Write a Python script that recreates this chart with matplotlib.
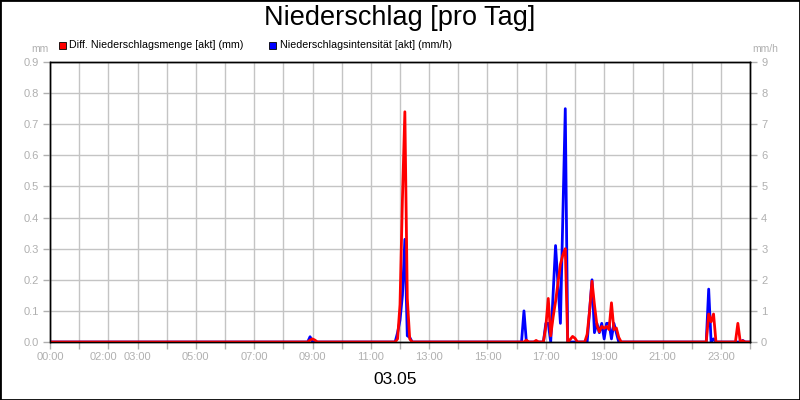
import numpy as np
import matplotlib
matplotlib.use("Agg")
import matplotlib.pyplot as plt
from matplotlib.patches import Rectangle
from matplotlib.transforms import ScaledTranslation

# ---- data (5-minute steps, values not listed are 0) ----
red_times = ["08:55", "09:00", "09:05",
             "11:55", "12:00", "12:05", "12:10", "12:15", "12:20",
             "16:20", "16:40",
             "17:00", "17:05", "17:10", "17:15", "17:20", "17:25", "17:30", "17:35", "17:40",
             "17:50", "17:55", "18:00",
             "18:25", "18:30", "18:35", "18:40", "18:45", "18:50", "18:55", "19:00", "19:05",
             "19:10", "19:15", "19:20", "19:25", "19:30",
             "22:35", "22:40", "22:45",
             "23:35", "23:45"]
red_vals = [0.006, 0.01, 0.006,
            0.01, 0.12, 0.46, 0.74, 0.14, 0.01,
            0.006, 0.005,
            0.05, 0.14, 0.02, 0.08, 0.13, 0.19, 0.25, 0.28, 0.30,
            0.008, 0.018, 0.012,
            0.025, 0.10, 0.195, 0.12, 0.055, 0.033, 0.05, 0.044, 0.05,
            0.04, 0.126, 0.04, 0.045, 0.015,
            0.09, 0.065, 0.09,
            0.06, 0.004]

blue_times = ["08:55",
              "11:55", "12:00", "12:05", "12:10", "12:15", "12:20",
              "16:15",
              "17:00", "17:05", "17:15", "17:20", "17:25", "17:30", "17:35", "17:40",
              "18:30", "18:35", "18:40", "18:45", "18:50", "18:55", "19:00", "19:05",
              "19:10", "19:15", "19:20", "19:25",
              "22:35", "22:45",
              "23:45"]
blue_vals = [0.17,
             0.3, 0.7, 1.5, 3.3, 0.2, 0.15,
             1.0,
             0.6, 0.6, 1.55, 3.1, 1.85, 0.6, 4.0, 7.5,
             1.0, 2.0, 0.3, 0.6, 0.3, 0.6, 0.1, 0.6,
             0.6, 0.1, 0.6, 0.3,
             1.7, 0.1,
             0.05]

tick_hours = [0, 2, 3, 5, 7, 9, 11, 13, 15, 17, 19, 21, 23]
tick_labels = ["00:00", "02:00", "03:00", "05:00", "07:00", "09:00", "11:00",
               "13:00", "15:00", "17:00", "19:00", "21:00", "23:00"]

title = "Niederschlag [pro Tag]"
date_label = "03.05"
red_label = "Diff. Niederschlagsmenge [akt] (mm)"
blue_label = "Niederschlagsintensität [akt] (mm/h)"


def to_idx(s):
    h, m = s.split(":")
    return (int(h) * 60 + int(m)) // 5


n = 24 * 12 + 1
hours = np.arange(n) / 12.0
red = np.zeros(n)
blue = np.zeros(n)
for t, v in zip(red_times, red_vals):
    red[to_idx(t)] = v
for t, v in zip(blue_times, blue_vals):
    blue[to_idx(t)] = v

plt.rcParams['font.family'] = ['Liberation Sans', 'DejaVu Sans']

fig = plt.figure(figsize=(8, 4), dpi=100)
fig.patch.set_facecolor("white")

ax2 = fig.add_axes([0.0625, 0.145, 0.875, 0.7])
ax = ax2.twinx()
ax.set_zorder(ax2.get_zorder() + 1)
ax.patch.set_visible(False)

gray = "#b0b0b0"
gridc = "#c4c4c4"

# blue series on right axis (lower layer), with grid
ax2.plot(hours, blue, color="#0000ff", lw=2.0, solid_joinstyle="round")
ax2.set_ylim(0, 9)
ax2.set_yticks(np.arange(0, 10, 1))
ax2.set_xlim(0, 24)
ax2.set_xticks(np.arange(0, 25, 1))
ax2.set_xticklabels([tick_labels[tick_hours.index(h)] if h in tick_hours else "" for h in range(25)])
ax2.grid(True, color=gridc, lw=1)
ax2.set_axisbelow(True)
ax2.yaxis.tick_right()
ax2.tick_params(axis="y", colors=gray, labelcolor=gray, labelsize=8, length=5, width=1, pad=3)
ax2.tick_params(axis="x", colors=gray, labelcolor=gray, labelsize=8, length=5, width=1, pad=2)

# shift the crowded "02:00" label a little to the left, as in the original
for lab in ax2.get_xticklabels():
    if lab.get_text() == "02:00":
        lab.set_transform(lab.get_transform() + ScaledTranslation(-5 / 100, 0, fig.dpi_scale_trans))

# red series on left axis (upper layer)
ax.plot(hours, red, color="#ff0000", lw=2.0, solid_joinstyle="round")
ax.set_ylim(0, 0.9)
ax.set_yticks(np.round(np.arange(0, 0.91, 0.1), 1))
ax.set_yticklabels([f"{v:.1f}" for v in np.arange(0, 0.91, 0.1)])
ax.yaxis.tick_left()
ax.tick_params(axis="y", colors=gray, labelcolor=gray, labelsize=8, length=5, width=1, pad=3)

for a in (ax, ax2):
    for sp in a.spines.values():
        sp.set_color("black")
        sp.set_linewidth(1)

# labels
fig.text(0.5, 0.955, title, ha="center", va="center", fontsize=19.5, color="black")
fig.text(0.494, 0.05, date_label, ha="center", va="center", fontsize=12.5, color="black")
fig.text(0.05, 0.877, "mm", ha="center", va="center", fontsize=7.5, color=gray)
fig.text(0.957, 0.877, "mm/h", ha="center", va="center", fontsize=7.5, color=gray)

# legend
fig.add_artist(Rectangle((58.5 / 800, 1 - 48.5 / 400), 7 / 800, 7 / 400, transform=fig.transFigure,
                         facecolor="#ff0000", edgecolor="black", lw=0.6))
fig.text(69 / 800, 1 - 45 / 400, red_label, ha="left", va="center", fontsize=7.7, color="black")
fig.add_artist(Rectangle((268.5 / 800, 1 - 48.5 / 400), 7 / 800, 7 / 400, transform=fig.transFigure,
                         facecolor="#0000ff", edgecolor="black", lw=0.6))
fig.text(280 / 800, 1 - 45 / 400, blue_label, ha="left", va="center", fontsize=7.7, color="black")

# outer border
fig.add_artist(Rectangle((0, 0), 1, 1, transform=fig.transFigure, fill=False,
                         edgecolor="black", lw=2))

fig.savefig("out.png", dpi=100)
